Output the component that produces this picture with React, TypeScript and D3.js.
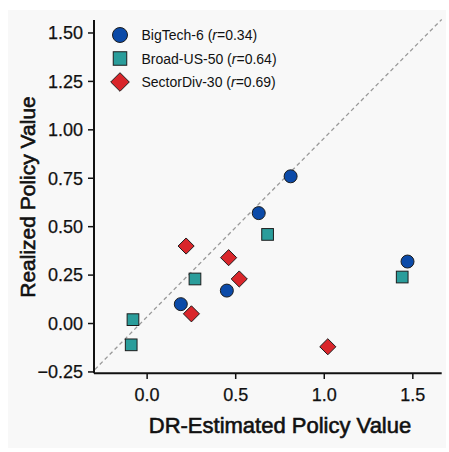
import React from "react";
import * as d3 from "d3";

const xTicks = [0.0, 0.5, 1.0, 1.5];
const yTicks = [-0.25, 0.0, 0.25, 0.5, 0.75, 1.0, 1.25, 1.5];

const bigTechX = [0.81, 0.63, 0.45, 0.19, 1.47];
const bigTechY = [0.76, 0.57, 0.17, 0.1, 0.32];
const broadX = [0.68, 0.27, 1.44, -0.08, -0.09];
const broadY = [0.46, 0.23, 0.24, 0.02, -0.11];
const sectorX = [0.22, 0.46, 0.52, 0.25, 1.02];
const sectorY = [0.4, 0.34, 0.23, 0.05, -0.12];

const seriesNames = ["BigTech-6", "Broad-US-50", "SectorDiv-30"];
const seriesR = ["0.34", "0.64", "0.69"];
const seriesShapes = ["circle", "square", "diamond"];
const seriesColors = ["#0b4aa8", "#2a9d9b", "#d9262b"];

const refLineX = [-0.295, 1.663];
const refLineY = [-0.237, 1.57];

const W = 449;
const H = 452;

function Marker({ shape, cx, cy, size, color }: any) {
  const stroke = "#1d1d1d";
  if (shape === "circle") {
    return <circle cx={cx} cy={cy} r={size / 2} fill={color} stroke={stroke} strokeWidth={1} />;
  }
  if (shape === "square") {
    const s = size * 0.9;
    return <rect x={cx - s / 2} y={cy - s / 2} width={s} height={s} fill={color} stroke={stroke} strokeWidth={1} />;
  }
  const d = size * 0.62;
  return (
    <path
      d={`M${cx},${cy - d} L${cx + d},${cy} L${cx},${cy + d} L${cx - d},${cy} Z`}
      fill={color}
      stroke={stroke}
      strokeWidth={1}
    />
  );
}

export default function App() {
  const x = d3.scaleLinear().domain([-0.3, 1.663]).range([94, 441.7]);
  const y = d3.scaleLinear().domain([-0.257, 1.567]).range([373.3, 20]);
  const font = "'Liberation Sans', Arial, Helvetica, sans-serif";

  const series = [
    { xs: bigTechX, ys: bigTechY },
    { xs: broadX, ys: broadY },
    { xs: sectorX, ys: sectorY },
  ];

  const line = d3
    .line<number>()
    .x((_, i) => x(refLineX[i]))
    .y((_, i) => y(refLineY[i]));

  return (
    <svg
      width={W}
      height={H}
      style={{ position: "absolute", left: 0, top: 0, background: "#ffffff" }}
      fontFamily={font}
    >
      <rect x={8} y={10} width={438} height={438} fill="#f8f8f8" />
      <path
        d={line(refLineX) || ""}
        fill="none"
        stroke="#9a9a9a"
        strokeWidth={1.3}
        strokeDasharray="4,3"
      />
      {/* axes */}
      <line x1={x.range()[0]} x2={x.range()[0]} y1={y.range()[1]} y2={y.range()[0]} stroke="#111" strokeWidth={2} />
      <line x1={x.range()[0]} x2={x.range()[1]} y1={y.range()[0]} y2={y.range()[0]} stroke="#111" strokeWidth={2} />
      {yTicks.map((t) => (
        <g key={"y" + t}>
          <line x1={88} x2={94} y1={y(t)} y2={y(t)} stroke="#111" strokeWidth={1.5} />
          <text x={83} y={y(t)} dy="0.35em" textAnchor="end" fontSize={18} fill="#111" stroke="#111" strokeWidth={0.25}>
            {t < 0 ? "\u2212" + Math.abs(t).toFixed(2) : t.toFixed(2)}
          </text>
        </g>
      ))}
      {xTicks.map((t) => (
        <g key={"x" + t}>
          <line x1={x(t)} x2={x(t)} y1={373.3} y2={379} stroke="#111" strokeWidth={1.5} />
          <text x={x(t)} y={401} textAnchor="middle" fontSize={18} fill="#111" stroke="#111" strokeWidth={0.25}>
            {t.toFixed(1)}
          </text>
        </g>
      ))}
      <text x={280} y={433} textAnchor="middle" fontSize={22} fill="#111" stroke="#111" strokeWidth={0.6}>
        DR-Estimated Policy Value
      </text>
      <text
        transform={`translate(35,197) rotate(-90)`}
        textAnchor="middle"
        fontSize={21}
        fill="#111"
        stroke="#111"
        strokeWidth={0.6}
      >
        Realized Policy Value
      </text>
      {/* points */}
      {series.map((s, si) =>
        s.xs.map((vx, i) => (
          <Marker
            key={si + "-" + i}
            shape={seriesShapes[si]}
            cx={x(vx)}
            cy={y(s.ys[i])}
            size={13}
            color={seriesColors[si]}
          />
        ))
      )}
      {/* legend */}
      {seriesNames.map((n, i) => {
        const ly = 35 + i * 23.5;
        return (
          <g key={n}>
            <Marker shape={seriesShapes[i]} cx={120} cy={ly} size={15} color={seriesColors[i]} />
            <text x={141.5} y={ly + 5} fontSize={14} fill="#111">
              {n} (<tspan fontStyle="italic">r</tspan>={seriesR[i]})
            </text>
          </g>
        );
      })}
    </svg>
  );
}
